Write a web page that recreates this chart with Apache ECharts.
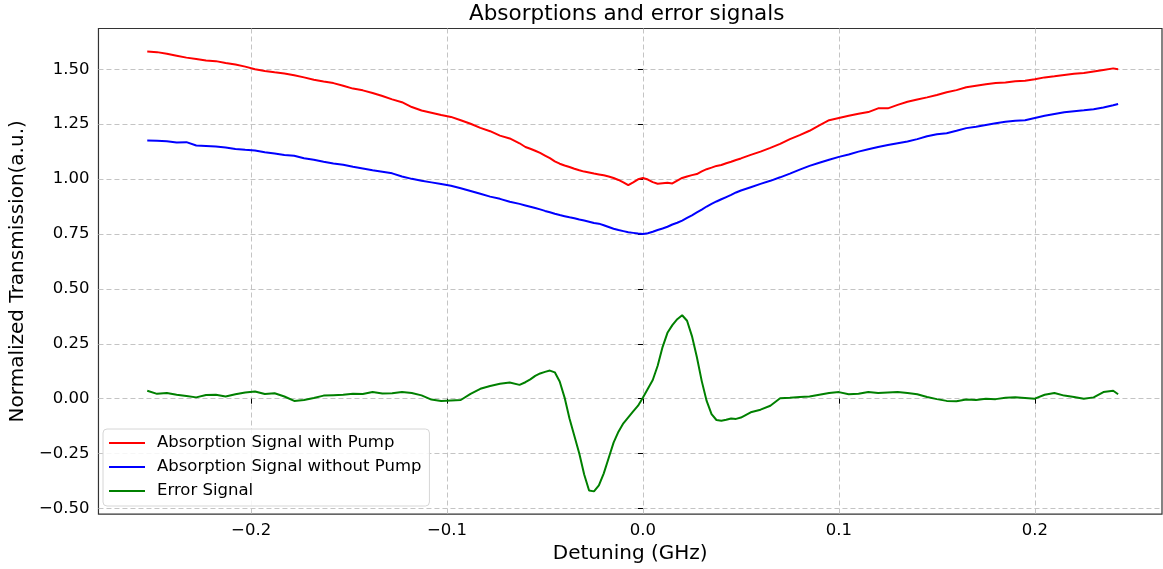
<!DOCTYPE html>
<html>
<head>
<meta charset="utf-8">
<title>Absorptions and error signals</title>
<script src="https://cdn.jsdelivr.net/npm/echarts@6/dist/echarts.min.js"></script>
<style>
  html, body { margin: 0; padding: 0; background: #ffffff; }
  #chart { width: 1163px; height: 569px; }
</style>
</head>
<body>
<div id="chart"></div>
<script>
// Laser detuning (GHz) for every sample of the three traces
const detuning = [
  -0.253, -0.248, -0.243, -0.238, -0.233, -0.228, -0.223, -0.218, -0.213, -0.208,
  -0.203, -0.198, -0.193, -0.188, -0.183, -0.178, -0.173, -0.168, -0.163, -0.158,
  -0.153, -0.148, -0.143, -0.138, -0.133, -0.128, -0.123, -0.118, -0.113, -0.108,
  -0.103, -0.098, -0.093, -0.088, -0.083, -0.078, -0.073, -0.068, -0.063,
  -0.0600, -0.0575, -0.0550, -0.0525, -0.0500, -0.0475, -0.0450, -0.0425, -0.0400, -0.0375,
  -0.0350, -0.0325, -0.0300, -0.0275, -0.0250, -0.0225, -0.0200, -0.0175, -0.0150, -0.0125,
  -0.0100, -0.0075, -0.0050, -0.0025, 0.0000, 0.0025, 0.0050, 0.0075, 0.0100, 0.0125,
  0.0150, 0.0175, 0.0200, 0.0225, 0.0250, 0.0275, 0.0300, 0.0325, 0.0350, 0.0375,
  0.0400, 0.0425, 0.0450, 0.0475, 0.0500,
  0.055, 0.060, 0.065, 0.070, 0.075, 0.080, 0.085, 0.090, 0.095, 0.100,
  0.105, 0.110, 0.115, 0.120, 0.125, 0.130, 0.135, 0.140, 0.145, 0.150,
  0.155, 0.160, 0.165, 0.170, 0.175, 0.180, 0.185, 0.190, 0.195, 0.200,
  0.205, 0.210, 0.215, 0.220, 0.225, 0.230, 0.235, 0.240, 0.2425
];

// Normalized transmission with the pump beam on
const withPump = [
  1.581, 1.578, 1.571, 1.562, 1.553, 1.547, 1.540, 1.537, 1.529, 1.522,
  1.512, 1.500, 1.492, 1.486, 1.481, 1.473, 1.463, 1.452, 1.444, 1.437,
  1.425, 1.412, 1.404, 1.392, 1.378, 1.363, 1.350, 1.328, 1.312, 1.302,
  1.292, 1.283, 1.268, 1.252, 1.233, 1.218, 1.198, 1.185, 1.163,
  1.146, 1.138, 1.129, 1.119, 1.107, 1.095, 1.081, 1.070, 1.062, 1.055,
  1.047, 1.040, 1.034, 1.030, 1.025, 1.021, 1.017, 1.012, 1.005, 0.996,
  0.985, 0.972, 0.985, 0.999, 1.005, 0.998, 0.986, 0.979, 0.981, 0.983,
  0.980, 0.993, 1.005, 1.012, 1.018, 1.023, 1.035, 1.045, 1.052, 1.060,
  1.064, 1.072, 1.079, 1.087, 1.094,
  1.110, 1.125, 1.142, 1.160, 1.182, 1.200, 1.220, 1.245, 1.268, 1.278,
  1.288, 1.297, 1.305, 1.322, 1.322, 1.338, 1.352, 1.362, 1.372, 1.383,
  1.395, 1.405, 1.418, 1.425, 1.432, 1.437, 1.440, 1.445, 1.448, 1.455,
  1.463, 1.468, 1.474, 1.480, 1.483, 1.490, 1.497, 1.504, 1.500
];

// Normalized transmission with the pump beam off
const withoutPump = [
  1.176, 1.175, 1.172, 1.166, 1.168, 1.153, 1.151, 1.148, 1.144, 1.137,
  1.133, 1.130, 1.122, 1.116, 1.110, 1.106, 1.095, 1.088, 1.079, 1.071,
  1.065, 1.056, 1.048, 1.040, 1.033, 1.026, 1.012, 1.001, 0.992, 0.985,
  0.978, 0.970, 0.958, 0.946, 0.933, 0.920, 0.910, 0.897, 0.887,
  0.880, 0.874, 0.868, 0.862, 0.855, 0.849, 0.842, 0.836, 0.831, 0.826,
  0.822, 0.816, 0.811, 0.806, 0.800, 0.797, 0.790, 0.782, 0.774, 0.768,
  0.763, 0.758, 0.755, 0.752, 0.750, 0.753, 0.760, 0.768, 0.775, 0.783,
  0.793, 0.801, 0.811, 0.823, 0.835, 0.848, 0.861, 0.875, 0.887, 0.898,
  0.908, 0.918, 0.928, 0.939, 0.948,
  0.963, 0.978, 0.992, 1.008, 1.025, 1.043, 1.060, 1.074, 1.088, 1.101,
  1.112, 1.125, 1.136, 1.146, 1.155, 1.163, 1.171, 1.182, 1.195, 1.204,
  1.209, 1.220, 1.232, 1.238, 1.246, 1.254, 1.261, 1.266, 1.268, 1.278,
  1.288, 1.296, 1.304, 1.309, 1.313, 1.318, 1.326, 1.336, 1.342
];

// Dispersive error signal
const errorSignal = [
  0.036, 0.022, 0.026, 0.018, 0.012, 0.006, 0.017, 0.018, 0.010, 0.020,
  0.028, 0.033, 0.021, 0.025, 0.010, -0.010, -0.006, 0.003, 0.014, 0.016,
  0.018, 0.023, 0.021, 0.030, 0.024, 0.025, 0.030, 0.026, 0.015, -0.004,
  -0.010, -0.008, -0.006, 0.022, 0.045, 0.058, 0.068, 0.074, 0.063,
  0.075, 0.088, 0.104, 0.115, 0.122, 0.128, 0.120, 0.078, 0.005, -0.090,
  -0.170, -0.250, -0.345, -0.418, -0.422, -0.395, -0.340, -0.270, -0.200, -0.150,
  -0.112, -0.085, -0.058, -0.032, 0.005, 0.045, 0.085, 0.150, 0.235, 0.300,
  0.335, 0.362, 0.380, 0.355, 0.285, 0.190, 0.080, -0.010, -0.070, -0.097,
  -0.100, -0.096, -0.090, -0.092, -0.086,
  -0.062, -0.050, -0.032, 0.002, 0.004, 0.008, 0.010, 0.018, 0.026, 0.030,
  0.020, 0.022, 0.030, 0.026, 0.028, 0.030, 0.026, 0.020, 0.008, -0.002,
  -0.010, -0.012, -0.004, -0.006, 0.000, -0.002, 0.004, 0.006, 0.003, 0.000,
  0.018, 0.026, 0.014, 0.008, 0.000, 0.006, 0.030, 0.036, 0.020
];

// Tick positions on both axes
const xTicks = [-0.2, -0.1, 0.0, 0.1, 0.2];
const yTicks = [-0.5, -0.25, 0.0, 0.25, 0.5, 0.75, 1.0, 1.25, 1.5];

const seriesNames = [
  'Absorption Signal with Pump',
  'Absorption Signal without Pump',
  'Error Signal'
];
const seriesColors = ['#ff0000', '#0000ff', '#008000'];

const FONT = 'DejaVu Sans';

function pairs(values) {
  return detuning.map((x, i) => [x, values[i]]);
}

function minusSign(str) {
  return str.replace('-', '\u2212');
}

const chart = echarts.init(document.getElementById('chart'), null, { renderer: 'canvas' });

const gridLine = {
  show: true,
  lineStyle: { color: '#c4c4c4', width: 1, type: [5, 3] }
};

chart.setOption({
  animation: false,
  backgroundColor: '#ffffff',
  title: {
    text: 'Absorptions and error signals',
    left: 469,
    top: 3,
    padding: 0,
    textStyle: { fontFamily: FONT, fontSize: 21.5, fontWeight: 'normal', color: '#000000' }
  },
  legend: {
    orient: 'vertical',
    left: 103,
    top: 429,
    padding: [5, 8, 6, 6],
    icon: 'rect',
    itemWidth: 36,
    itemHeight: 2,
    itemGap: 6,
    backgroundColor: 'rgba(255,255,255,0.85)',
    borderColor: '#d6d6d6',
    borderWidth: 1,
    borderRadius: 4,
    data: seriesNames,
    textStyle: {
      fontFamily: FONT, fontSize: 16.5, color: '#000000',
      lineHeight: 18, padding: [0, 0, 0, 7]
    }
  },
  grid: {
    left: 96, top: 28.5, right: 1, bottom: 54.5,
    show: true, borderColor: '#333333', borderWidth: 1.2,
    containLabel: false
  },
  xAxis: {
    type: 'value',
    min: -0.2779,
    max: 0.2649,
    name: 'Detuning (GHz)',
    nameLocation: 'middle',
    nameGap: 27,
    nameTextStyle: { fontFamily: FONT, fontSize: 20, color: '#000000' },
    axisLine: { show: false },
    axisTick: { show: true, length: 5, customValues: xTicks, lineStyle: { color: '#000000', width: 1 } },
    axisLabel: {
      customValues: xTicks,
      margin: 8,
      fontFamily: FONT, fontSize: 16.5, color: '#000000',
      formatter: v => minusSign(v.toFixed(1))
    },
    splitLine: gridLine
  },
  yAxis: {
    type: 'value',
    min: -0.5255,
    max: 1.6856,
    name: 'Normalized Transmission(a.u.)',
    nameLocation: 'middle',
    nameGap: 67,
    nameTextStyle: { fontFamily: FONT, fontSize: 20, color: '#000000' },
    axisLine: { show: false },
    axisTick: { show: true, length: 5, customValues: yTicks, lineStyle: { color: '#000000', width: 1 } },
    axisLabel: {
      customValues: yTicks,
      margin: 9,
      fontFamily: FONT, fontSize: 16.5, color: '#000000',
      formatter: v => minusSign(v.toFixed(2))
    },
    splitLine: gridLine
  },
  series: [withPump, withoutPump, errorSignal].map((vals, i) => ({
    name: seriesNames[i],
    type: 'line',
    data: pairs(vals),
    symbol: 'none',
    smooth: false,
    lineStyle: { color: seriesColors[i], width: 2 },
    itemStyle: { color: seriesColors[i] },
    z: 3 + i
  }))
});
</script>
</body>
</html>
